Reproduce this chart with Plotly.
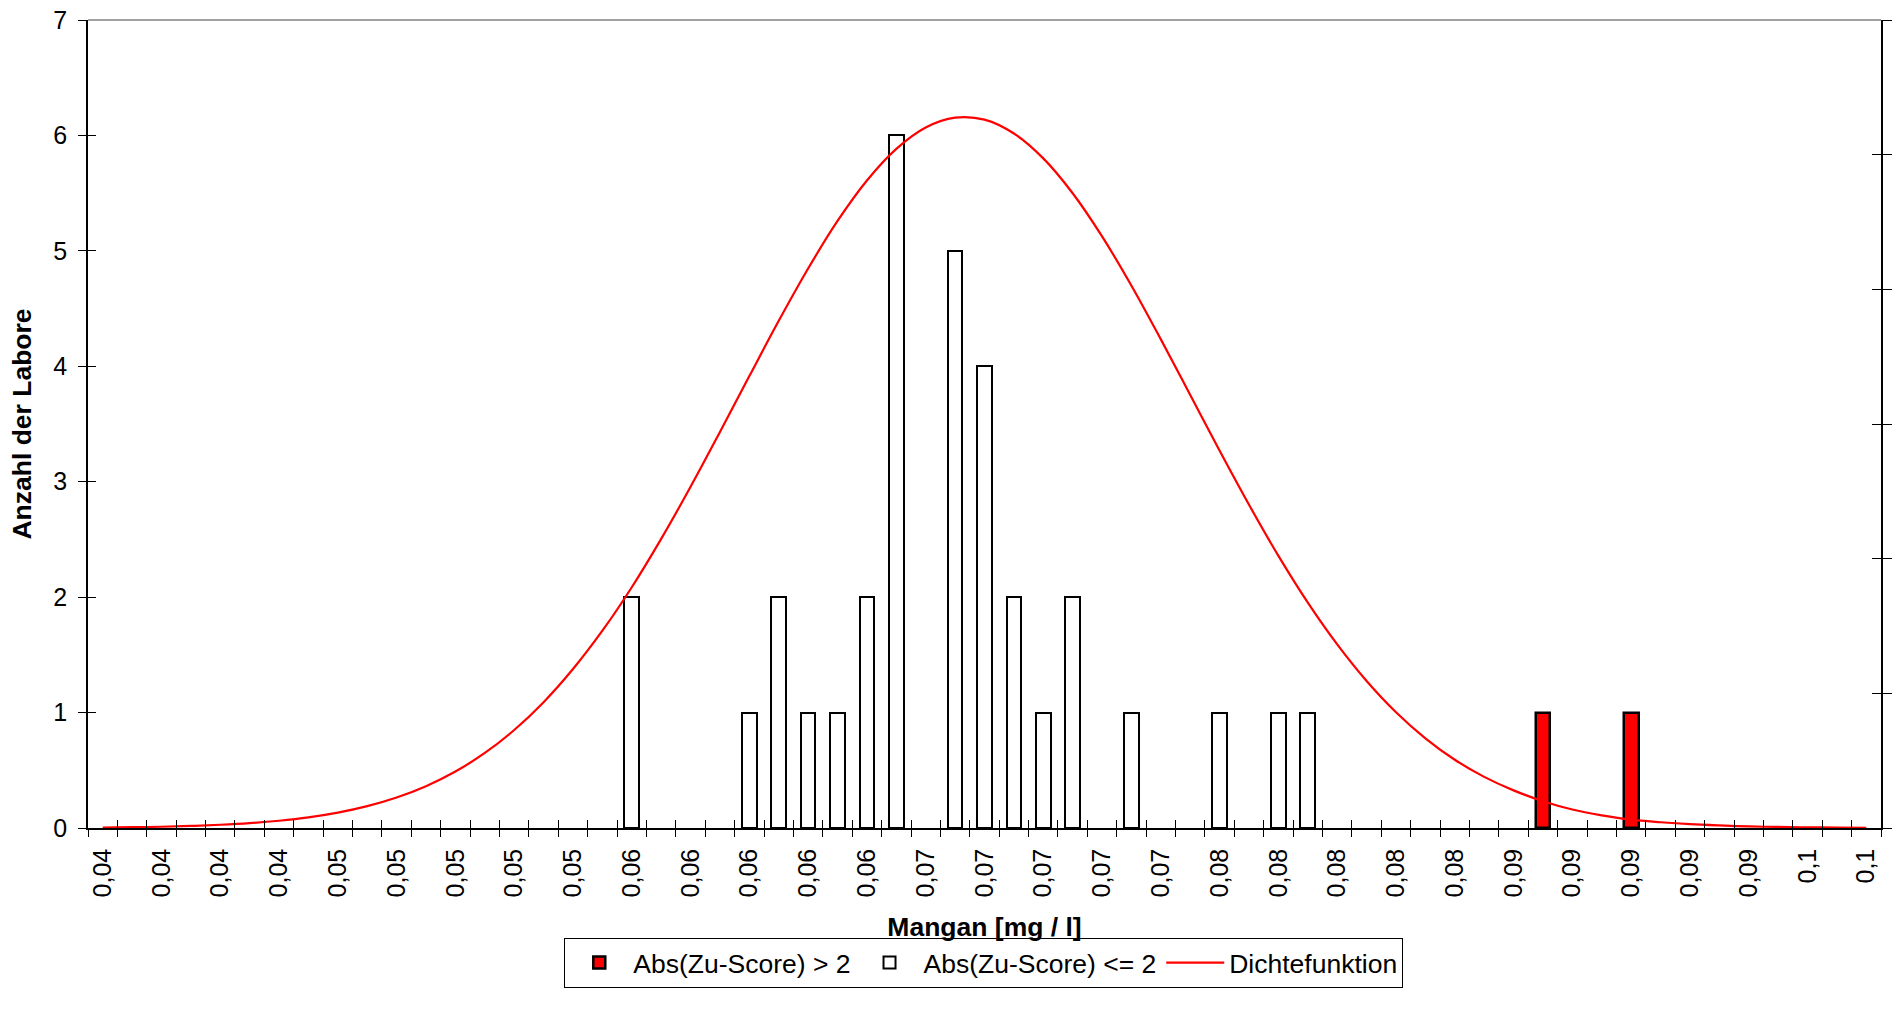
import plotly.graph_objects as go

# ---- data ----
x_labels = ["0,04", "0,04", "0,04", "0,04", "0,05", "0,05", "0,05", "0,05", "0,05",
            "0,06", "0,06", "0,06", "0,06", "0,06", "0,07", "0,07", "0,07", "0,07", "0,07",
            "0,08", "0,08", "0,08", "0,08", "0,08", "0,09", "0,09", "0,09", "0,09", "0,09",
            "0,1", "0,1"]
n_categories = 61

ok_idx = [18, 22, 23, 24, 25, 26, 27, 29, 30, 31, 32, 33, 35, 38, 40, 41]
ok_cnt = [2, 1, 2, 1, 1, 2, 6, 5, 4, 2, 1, 2, 1, 1, 1, 1]

out_idx = [49, 52]
out_cnt = [1, 1]

density = [0.004, 0.007, 0.011, 0.018, 0.028, 0.042, 0.063, 0.092, 0.133, 0.189,
           0.264, 0.362, 0.489, 0.650, 0.849, 1.090, 1.377, 1.709, 2.086, 2.505,
           2.956, 3.431, 3.915, 4.394, 4.847, 5.259, 5.610, 5.884, 6.069, 6.154,
           6.137, 6.017, 5.801, 5.499, 5.125, 4.698, 4.233, 3.751, 3.268, 2.800,
           2.358, 1.953, 1.591, 1.274, 1.003, 0.777, 0.591, 0.443, 0.326, 0.232,
           0.160, 0.110, 0.072, 0.050, 0.033, 0.022, 0.014, 0.009, 0.006, 0.004,
           0.002]

cat_idx = list(range(n_categories))
label_idx = cat_idx[::2]
boundaries = [i - 0.5 for i in range(n_categories + 1)]
y_left_ticks = list(range(8))
y_right_ticks = list(range(7))

FONT = "Liberation Sans, Arial, sans-serif"

fig = go.Figure()
fig.add_trace(go.Bar(
    x=out_idx, y=out_cnt, width=0.5, name="Abs(Zu-Score) > 2",
    marker=dict(color="#ff0000", line=dict(color="black", width=2.5)),
))
fig.add_trace(go.Bar(
    x=ok_idx, y=ok_cnt, width=0.5, name="Abs(Zu-Score) <= 2",
    marker=dict(color="white", line=dict(color="black", width=2)),
))
fig.add_trace(go.Scatter(
    x=cat_idx, y=density, mode="lines", name="Dichtefunktion",
    line=dict(color="#ff0000", width=2.2, shape="spline", smoothing=1.0),
))

# empty helper traces so that the extra tick-only axes get drawn
for xa, ya in [("x2", "y"), ("x3", "y"), ("x", "y2"), ("x", "y3"), ("x", "y4")]:
    fig.add_trace(go.Scatter(x=[], y=[], xaxis=xa, yaxis=ya, mode="lines",
                             showlegend=False, hoverinfo="skip"))

xr = [-0.5, n_categories - 0.5]
common_x = dict(range=xr, showgrid=False, zeroline=False, fixedrange=True)
common_y = dict(showgrid=False, zeroline=False, fixedrange=True)

fig.update_layout(
    width=1896, height=1011,
    margin=dict(l=88, r=15, t=20, b=183, autoexpand=False),
    paper_bgcolor="white", plot_bgcolor="white",
    font=dict(family=FONT, size=25, color="black"),
    barmode="overlay",
    bargap=0,
    showlegend=True,
    legend=dict(
        orientation="h", x=0.4996, xanchor="center", y=-0.136, yanchor="top",
        bordercolor="black", borderwidth=1, bgcolor="white",
        font=dict(family=FONT, size=26.5), itemwidth=58,
    ),
    xaxis=dict(
        **common_x,
        tickmode="array", tickvals=label_idx, ticktext=x_labels,
        ticks="outside", ticklen=8, tickcolor="rgba(0,0,0,0)",
        tickangle=-90, ticklabelstandoff=1,
        showline=True, linecolor="black", linewidth=1.5,
        title=dict(text="<b>Mangan [mg / l]</b>", font=dict(size=26.5), standoff=21),
    ),
    xaxis2=dict(
        **common_x, overlaying="x", anchor="y", side="bottom",
        tickmode="array", tickvals=boundaries, ticks="outside", ticklen=8,
        tickcolor="black", tickwidth=1, showticklabels=False, showline=False,
    ),
    xaxis3=dict(
        **common_x, overlaying="x", anchor="y", side="bottom",
        tickmode="array", tickvals=boundaries, ticks="inside", ticklen=8,
        tickcolor="black", tickwidth=1, showticklabels=False, showline=False,
    ),
    yaxis=dict(
        **common_y, range=[0, 7], tickmode="array", tickvals=y_left_ticks,
        ticks="outside", ticklen=8, tickcolor="black",
        ticklabelstandoff=6, ticklabeloverflow="allow",
        showline=True, linecolor="black", linewidth=1.5,
        title=dict(text="<b>Anzahl der Labore</b>", font=dict(size=26.5), standoff=14),
    ),
    yaxis2=dict(
        **common_y, range=[0, 7], overlaying="y", side="left", anchor="x",
        tickmode="array", tickvals=y_left_ticks, ticks="inside", ticklen=8,
        tickcolor="black", showticklabels=False, showline=False,
    ),
    yaxis3=dict(
        **common_y, range=[0, 6], overlaying="y", side="right", anchor="x",
        tickmode="array", tickvals=y_right_ticks, ticks="outside", ticklen=9,
        tickcolor="black", showticklabels=False,
        showline=True, linecolor="black", linewidth=1.5,
    ),
    yaxis4=dict(
        **common_y, range=[0, 6], overlaying="y", side="right", anchor="x",
        tickmode="array", tickvals=y_right_ticks, ticks="inside", ticklen=9,
        tickcolor="black", showticklabels=False, showline=False,
    ),
    shapes=[dict(type="line", xref="paper", yref="paper", x0=0, x1=1, y0=1, y1=1,
                 line=dict(color="#808080", width=1.5))],
)

fig.write_html(
    "out.html",
    config={"displayModeBar": False},
    post_script="document.body.style.margin='0';document.body.style.overflow='hidden';",
)
